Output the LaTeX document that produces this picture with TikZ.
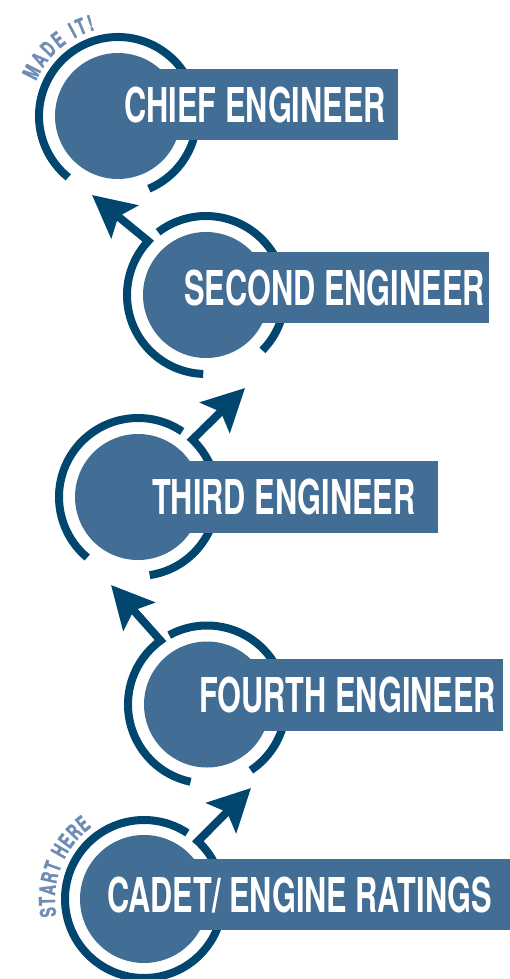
\documentclass[tikz,border=0pt]{standalone}
\usepackage{fontspec}
\newfontfamily\stagefont{TeX Gyre Heros}[FakeStretch=0.64]
\newfontfamily\notefamily{TeX Gyre Heros}[FakeStretch=0.66, FakeBold=1.5]
\newcommand\notefont{\notefamily\bfseries\fontsize{22}{22}\selectfont}
\usetikzlibrary{arrows.meta, decorations.text}
\definecolor{diskblue}{HTML}{426E96}
\definecolor{ringblue}{HTML}{00466E}
\definecolor{noteblue}{HTML}{6E8CB4}
\tikzset{
  ring/.style={draw=ringblue, line width=8pt},
  stagearrow/.style={ring, -{Stealth[length=42pt, width=42pt, inset=8pt]}},
  disk/.style={fill=diskblue},
  bar/.style={fill=diskblue},
  stagetext/.style={anchor=base west, text=white, inner sep=0pt,
    font=\stagefont\bfseries\fontsize{48}{48}\selectfont},
  note/.style={decorate, decoration={text along path, text align=fit to path,
    text color=noteblue, text={|\notefont|#1}}}
}
\begin{document}
\begin{tikzpicture}[x=1pt, y=1pt]
  \useasboundingbox (0,0) rectangle (509,-979);
  % centres of the five stages
  \coordinate (chief) at (118,-116);
  \coordinate (second) at (206,-295);
  \coordinate (third) at (138,-497);
  \coordinate (fourth) at (207,-704.5);
  \coordinate (cadet) at (144,-899);
  % arrow tips
  \coordinate (secondtip) at (92,-195);
  \coordinate (thirdtip) at (245,-388);
  \coordinate (fourthtip) at (111,-585);
  \coordinate (cadettip) at (251,-788);

  % chief engineer
  \draw[ring] ([shift={(-67:79)}]chief) arc[start angle=-67, end angle=231, radius=79];
  \fill[bar] (118,-69) rectangle (398,-140);
  \fill[disk] (chief) circle[radius=63];
  \node[stagetext] (chieflabel) at (124,-123) {CHIEF ENGINEER};
  \path[note={MADE IT!}] ([shift={(157:89)}]chief) arc[start angle=157, end angle=105, radius=89];

  % second engineer
  \draw[ring] ([shift={(-44.5:79)}]second) arc[start angle=-44.5, end angle=127.3, radius=79];
  \draw[stagearrow] ([shift={(268:79)}]second) arc[start angle=268, end angle=137, radius=79] -- (secondtip);
  \fill[bar] (206,-252) rectangle (489,-323);
  \fill[disk] (second) circle[radius=63];
  \node[stagetext] (secondlabel) at (184,-305) {SECOND ENGINEER};

  % third engineer
  \draw[ring] ([shift={(56:79)}]third) arc[start angle=56, end angle=230, radius=79];
  \draw[stagearrow] ([shift={(278.5:79)}]third) arc[start angle=278.5, end angle=406.5, radius=79] -- (thirdtip);
  \fill[bar] (138,-461) rectangle (438,-533);
  \fill[disk] (third) circle[radius=63];
  \node[stagetext] (thirdlabel) at (152,-514.5) {THIRD ENGINEER};

  % fourth engineer
  \draw[ring] ([shift={(-56.3:79)}]fourth) arc[start angle=-56.3, end angle=118.6, radius=79];
  \draw[stagearrow] ([shift={(258:79)}]fourth) arc[start angle=258, end angle=126, radius=79] -- (fourthtip);
  \fill[bar] (207,-659) rectangle (503,-731);
  \fill[disk] (fourth) circle[radius=63];
  \node[stagetext] (fourthlabel) at (199,-712.5) {FOURTH ENGINEER};

  % cadet / engine ratings
  \draw[stagearrow] ([shift={(56.7:79)}]cadet) arc[start angle=56.7, end angle=407, radius=79] -- (cadettip);
  \fill[bar] (144,-859) rectangle (512,-930);
  \fill[disk] (cadet) circle[radius=64];
  \node[stagetext] (cadetlabel) at (107,-912) {CADET/ ENGINE RATINGS};
  \path[note={START HERE}] ([shift={(191:89)}]cadet) arc[start angle=191, end angle=126, radius=89];
\end{tikzpicture}
\end{document}
